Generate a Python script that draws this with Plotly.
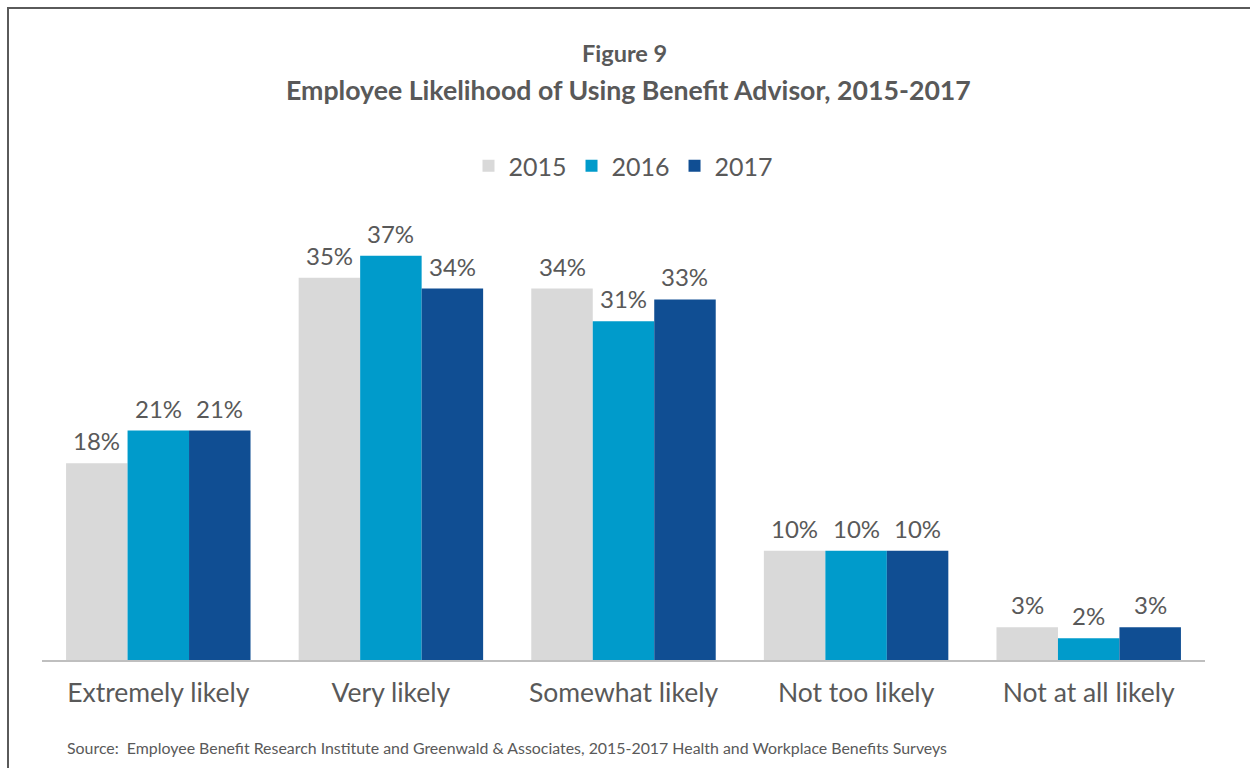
import plotly.graph_objects as go

categories = ["Extremely likely", "Very likely", "Somewhat likely", "Not too likely", "Not at all likely"]
years = ["2015", "2016", "2017"]
values_2015 = [18, 35, 34, 10, 3]
values_2016 = [21, 37, 31, 10, 2]
values_2017 = [21, 34, 33, 10, 3]
colors = ["#D9D9D9", "#009BCB", "#104E93"]

FONT = "Lato"
TEXT = "#595959"

W, H = 1250, 768
ml, mr, mt, mb = 42, 45, 223, 108
pw, ph = W - ml - mr, H - mt - mb
BARGAP = 0.207

def px(x):
    return (x - ml) / pw

def py(y):
    return (H - mb - y) / ph

fig = go.Figure()
series = [values_2015, values_2016, values_2017]
for year, vals, col in zip(years, series, colors):
    fig.add_trace(go.Bar(
        name=year, x=categories, y=vals, marker=dict(color=col, line=dict(width=0)),
    ))

# value labels above each bar, offset horizontally to sit over its group slot
slot = pw / len(categories) * (1 - BARGAP) / len(years)
for i, vals in enumerate(series):
    for cat, v in zip(categories, vals):
        fig.add_annotation(x=cat, y=v, xref="x", yref="y", text=f"{v}%", showarrow=False,
                           xshift=(i - 1) * slot, yshift=6, yanchor="bottom",
                           font=dict(family=FONT, size=24, color=TEXT))

fig.update_layout(
    width=W, height=H, autosize=False,
    margin=dict(l=ml, r=mr, t=mt, b=mb),
    paper_bgcolor="white", plot_bgcolor="white",
    barmode="group", bargap=BARGAP, bargroupgap=0,
    font=dict(family=FONT, color=TEXT),
    showlegend=True,
    legend=dict(orientation="h", x=0.5, xanchor="center", y=py(166), yanchor="middle",
                font=dict(family=FONT, size=25, color=TEXT), traceorder="normal",
                itemwidth=30),
    xaxis=dict(showline=True, linecolor="#BFBFBF", linewidth=1.5, ticks="",
               tickfont=dict(family=FONT, size=26.5, color=TEXT), showgrid=False,
               ticklabelstandoff=8),
    yaxis=dict(range=[0, 40], visible=False, showgrid=False),
)

fig.add_annotation(text="<b>Figure 9</b>", xref="paper", yref="paper", x=px(624), y=py(53),
                   showarrow=False, font=dict(family=FONT, size=23.5, color=TEXT), yanchor="middle")
fig.add_annotation(text="<b>Employee Likelihood of Using Benefit Advisor, 2015-2017</b>",
                   xref="paper", yref="paper", x=px(628), y=py(90), showarrow=False,
                   font=dict(family=FONT, size=26.7, color=TEXT), yanchor="middle")
fig.add_annotation(text="Source:  Employee Benefit Research Institute and Greenwald & Associates, 2015-2017 Health and Workplace Benefits Surveys",
                   xref="paper", yref="paper", x=px(65), y=py(747), xanchor="left", yanchor="middle",
                   showarrow=False, font=dict(family=FONT, size=15.9, color=TEXT))

fig.add_shape(type="rect", xref="paper", yref="paper",
              x0=px(8), x1=px(1300), y0=py(800), y1=py(8),
              line=dict(color="#5A5A5A", width=2), fillcolor="rgba(0,0,0,0)", layer="above")

fig.write_html("out.html")
